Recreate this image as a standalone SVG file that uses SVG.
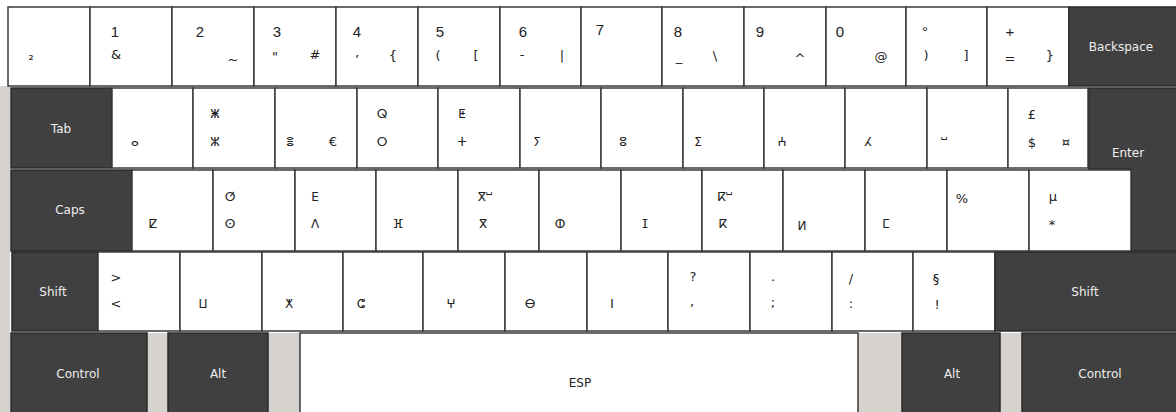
<svg xmlns="http://www.w3.org/2000/svg" width="1176" height="412" viewBox="0 0 1176 412">
<style>
.wk{fill:#fff;stroke:#3a3a3a;stroke-width:1.5}
.dk{fill:#404040;stroke:#2a2a2a;stroke-width:1.5}
.gp{fill:#d6d3ce}
.dl{font-family:"DejaVu Sans",sans-serif;font-size:12px;fill:#eeeeee;text-anchor:middle}
.t{font-family:"Liberation Sans",sans-serif;font-size:15px;fill:#222;text-anchor:middle}
.b{font-family:"DejaVu Sans",sans-serif;font-size:13px;fill:#222;text-anchor:middle}
.f{font-family:"DejaVu Sans",sans-serif;font-size:12px;fill:#222;text-anchor:middle}
</style>
<rect x="0" y="0" width="1176" height="412" fill="#ffffff"/>
<rect x="0" y="86" width="10" height="326" class="gp"/>
<g id="row1">
<g id="k-sup"><rect class="wk" x="8" y="7" width="82" height="79"/><text class="b" x="31" y="64">²</text></g>
<g id="k-1"><rect class="wk" x="90" y="7" width="82" height="79"/><text class="t" x="115" y="37">1</text><text class="b" x="116" y="59">&amp;</text></g>
<g id="k-2"><rect class="wk" x="172" y="7" width="82" height="79"/><text class="t" x="200" y="37">2</text><text class="b" x="233" y="64">~</text></g>
<g id="k-3"><rect class="wk" x="254" y="7" width="82" height="79"/><text class="t" x="277" y="37">3</text><text class="b" x="275" y="61">"</text><text class="b" x="315" y="59">#</text></g>
<g id="k-4"><rect class="wk" x="336" y="7" width="82" height="79"/><text class="t" x="357" y="37">4</text><text class="b" x="357" y="64">’</text><text class="b" x="393" y="60">{</text></g>
<g id="k-5"><rect class="wk" x="418" y="7" width="82" height="79"/><text class="t" x="440" y="37">5</text><text class="b" x="438" y="60">(</text><text class="b" x="476" y="60">[</text></g>
<g id="k-6"><rect class="wk" x="500" y="7" width="81" height="79"/><text class="t" x="523" y="37">6</text><text class="b" x="522" y="59">-</text><text class="b" x="562" y="60">|</text></g>
<g id="k-7"><rect class="wk" x="581" y="7" width="81" height="79"/><text class="t" x="600" y="35">7</text></g>
<g id="k-8"><rect class="wk" x="662" y="7" width="82" height="79"/><text class="t" x="678" y="37">8</text><text class="b" x="679" y="61">_</text><text class="b" x="715" y="60">\</text></g>
<g id="k-9"><rect class="wk" x="744" y="7" width="82" height="79"/><text class="t" x="760" y="37">9</text><text class="b" x="800" y="63">^</text></g>
<g id="k-0"><rect class="wk" x="826" y="7" width="80" height="79"/><text class="t" x="840" y="37">0</text><text class="b" x="881" y="61">@</text></g>
<g id="k-deg"><rect class="wk" x="906" y="7" width="81" height="79"/><text class="t" x="925" y="37">°</text><text class="b" x="926" y="60">)</text><text class="b" x="966" y="60">]</text></g>
<g id="k-plus"><rect class="wk" x="987" y="7" width="82" height="79"/><text class="t" x="1010" y="37">+</text><text class="b" x="1010" y="63">=</text><text class="b" x="1050" y="60">}</text></g>
<g id="k-backspace"><rect class="dk" x="1069" y="7" width="108" height="79"/><text class="dl" x="1121" y="51">Backspace</text></g>
</g>
<g id="row2">
<g id="k-tab"><rect class="dk" x="11" y="88" width="101" height="80"/><text class="dl" x="61" y="133">Tab</text></g>
<g id="k-a"><rect class="wk" x="112" y="88" width="81" height="80"/><text class="f" x="135" y="146">ⴰ</text></g>
<g id="k-z"><rect class="wk" x="193" y="88" width="82" height="80"/><text class="f" x="215" y="118">ⵥ</text><text class="f" x="215" y="146">ⵣ</text></g>
<g id="k-e"><rect class="wk" x="275" y="88" width="82" height="80"/><text class="f" x="290" y="146">ⴻ</text><text class="b" x="333" y="146">€</text></g>
<g id="k-r"><rect class="wk" x="357" y="88" width="81" height="80"/><text class="f" x="382" y="118">ⵕ</text><text class="f" x="382" y="146">ⵔ</text></g>
<g id="k-t"><rect class="wk" x="438" y="88" width="82" height="80"/><text class="f" x="462" y="118">ⵟ</text><text class="f" x="462" y="146">ⵜ</text></g>
<g id="k-y"><rect class="wk" x="520" y="88" width="81" height="80"/><text class="f" x="537" y="146">ⵢ</text></g>
<g id="k-u"><rect class="wk" x="601" y="88" width="82" height="80"/><text class="f" x="623" y="146">ⵓ</text></g>
<g id="k-i"><rect class="wk" x="683" y="88" width="81" height="80"/><text class="f" x="698" y="146">ⵉ</text></g>
<g id="k-o"><rect class="wk" x="764" y="88" width="81" height="80"/><text class="f" x="782" y="146">ⵄ</text></g>
<g id="k-p"><rect class="wk" x="845" y="88" width="82" height="80"/><text class="f" x="868" y="146">ⵃ</text></g>
<g id="k-circ"><rect class="wk" x="927" y="88" width="81" height="80"/><text class="f" x="944" y="146">ⵯ</text></g>
<g id="k-dollar"><rect class="wk" x="1008" y="88" width="80" height="80"/><text class="b" x="1032" y="119">£</text><text class="b" x="1032" y="147">$</text><text class="b" x="1066" y="146">¤</text></g>
<g id="k-enter"><path class="dk" d="M1089,88 H1177 V251 H1131 V169 H1089 Z"/><text class="dl" x="1128" y="157">Enter</text></g>
</g>
<g id="row3">
<g id="k-caps"><rect class="dk" x="11" y="170" width="121" height="81"/><text class="dl" x="70" y="214">Caps</text></g>
<g id="k-q"><rect class="wk" x="132" y="170" width="81" height="81"/><text class="f" x="153" y="228">ⵇ</text></g>
<g id="k-s"><rect class="wk" x="213" y="170" width="82" height="81"/><text class="f" x="230" y="201">ⵚ</text><text class="f" x="230" y="228">ⵙ</text></g>
<g id="k-d"><rect class="wk" x="295" y="170" width="81" height="81"/><text class="f" x="315" y="201">ⴹ</text><text class="f" x="315" y="228">ⴷ</text></g>
<g id="k-f"><rect class="wk" x="376" y="170" width="82" height="81"/><text class="f" x="398" y="228">ⴼ</text></g>
<g id="k-g"><rect class="wk" x="458" y="170" width="81" height="81"/><text class="f" x="485" y="201">ⴳⵯ</text><text class="f" x="483" y="228">ⴳ</text></g>
<g id="k-h"><rect class="wk" x="539" y="170" width="82" height="81"/><text class="f" x="560" y="228">ⵀ</text></g>
<g id="k-j"><rect class="wk" x="621" y="170" width="81" height="81"/><text class="f" x="645" y="228">ⵊ</text></g>
<g id="k-k"><rect class="wk" x="702" y="170" width="81" height="81"/><text class="f" x="725" y="201">ⴽⵯ</text><text class="f" x="723" y="228">ⴽ</text></g>
<g id="k-l"><rect class="wk" x="783" y="170" width="82" height="81"/><text class="f" x="802" y="230">ⵍ</text></g>
<g id="k-m"><rect class="wk" x="865" y="170" width="82" height="81"/><text class="f" x="886" y="228">ⵎ</text></g>
<g id="k-ugrave"><rect class="wk" x="947" y="170" width="82" height="81"/><text class="b" x="962" y="203">%</text></g>
<g id="k-star"><rect class="wk" x="1029" y="170" width="102" height="81"/><text class="b" x="1053" y="201">µ</text><text class="b" x="1052" y="229">*</text></g>
</g>
<g id="row4">
<g id="k-lshift"><rect class="dk" x="12" y="252" width="86" height="79"/><text class="dl" x="53" y="296">Shift</text></g>
<g id="k-lt"><rect class="wk" x="98" y="252" width="82" height="79"/><text class="b" x="116" y="282">&gt;</text><text class="b" x="116" y="308">&lt;</text></g>
<g id="k-w"><rect class="wk" x="180" y="252" width="82" height="79"/><text class="f" x="203" y="308">ⵡ</text></g>
<g id="k-x"><rect class="wk" x="262" y="252" width="81" height="79"/><text class="f" x="289" y="308">ⵅ</text></g>
<g id="k-c"><rect class="wk" x="343" y="252" width="80" height="79"/><text class="f" x="361" y="308">ⵛ</text></g>
<g id="k-v"><rect class="wk" x="423" y="252" width="82" height="79"/><text class="f" x="451" y="308">ⵖ</text></g>
<g id="k-b"><rect class="wk" x="505" y="252" width="82" height="79"/><text class="f" x="530" y="308">ⴱ</text></g>
<g id="k-n"><rect class="wk" x="587" y="252" width="81" height="79"/><text class="f" x="612" y="308">ⵏ</text></g>
<g id="k-comma"><rect class="wk" x="668" y="252" width="82" height="79"/><text class="b" x="693" y="281">?</text><text class="b" x="692" y="306">,</text></g>
<g id="k-semi"><rect class="wk" x="750" y="252" width="82" height="79"/><text class="b" x="773" y="281">.</text><text class="b" x="773" y="307">;</text></g>
<g id="k-colon"><rect class="wk" x="832" y="252" width="81" height="79"/><text class="b" x="851" y="283">/</text><text class="b" x="851" y="308">:</text></g>
<g id="k-excl"><rect class="wk" x="913" y="252" width="82" height="79"/><text class="b" x="936" y="283">§</text><text class="b" x="937" y="309">!</text></g>
<g id="k-rshift"><rect class="dk" x="995" y="252" width="182" height="79"/><text class="dl" x="1085" y="296">Shift</text></g>
</g>
<g id="row5">
<rect class="gp" x="147" y="333" width="21" height="79"/>
<rect class="gp" x="268" y="333" width="32" height="79"/>
<rect class="gp" x="858" y="333" width="44" height="79"/>
<rect class="gp" x="1000" y="333" width="22" height="79"/>
<g id="k-lctrl"><rect class="dk" x="11" y="333" width="136" height="80"/><text class="dl" x="78" y="378">Control</text></g>
<g id="k-lalt"><rect class="dk" x="168" y="333" width="100" height="80"/><text class="dl" x="218" y="378">Alt</text></g>
<g id="k-space"><rect class="wk" x="300" y="333" width="558" height="80"/><text class="f" x="580" y="387">ESP</text></g>
<g id="k-ralt"><rect class="dk" x="902" y="333" width="98" height="80"/><text class="dl" x="952" y="378">Alt</text></g>
<g id="k-rctrl"><rect class="dk" x="1022" y="333" width="155" height="80"/><text class="dl" x="1100" y="378">Control</text></g>
</g>
</svg>
